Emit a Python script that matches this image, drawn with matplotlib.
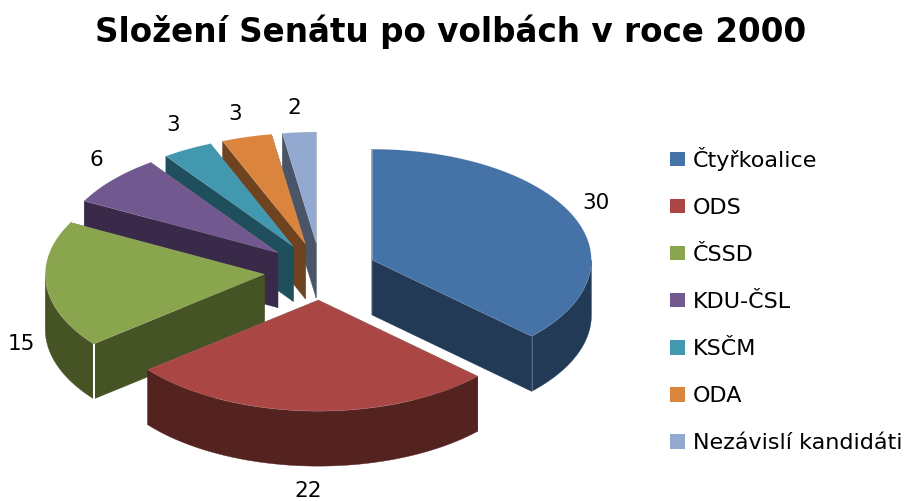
# 3D exploded pie of the Senate composition after the 2000 election
import numpy as np
import matplotlib.pyplot as plt
from matplotlib.patches import Polygon, Patch

# data
parties = ['Čtyřkoalice', 'ODS', 'ČSSD', 'KDU-ČSL', 'KSČM', 'ODA', 'Nezávislí kandidáti']
seats = [30, 22, 15, 6, 3, 3, 2]
top_colors = ['#4573A7', '#AA4644', '#89A54E', '#71588F', '#4198AF', '#DB843D', '#93A9CF']
side_colors = ['#233A56', '#54221F', '#465425', '#3A2A49', '#1F4E5C', '#6F4320', '#4A5568']

# pie geometry in pixels
cx, cy = 320.5, 271.5
rx, ry = 219, 111
depth = 55
explode = 0.258

# where the value labels sit
label_x = [596, 308, 21, 96, 173, 235, 294]
label_y = [203, 491, 344, 160, 125, 114, 108]

fig = plt.figure(figsize=(9.09, 5.01), dpi=100)
ax = fig.add_axes([0, 0, 1, 1])
ax.set_xlim(0, 909)
ax.set_ylim(501, 0)
ax.axis('off')

# angles run clockwise from 12 o'clock
edges = np.cumsum([0] + seats) / sum(seats) * 2 * np.pi
slices = []
for i in range(len(seats)):
    mid = (edges[i] + edges[i + 1]) / 2
    ax0 = cx + explode * rx * np.sin(mid)
    ay0 = cy - explode * ry * np.cos(mid)
    slices.append((ay0, ax0, i))


def rim(x0, y0, t):
    return x0 + rx * np.sin(t), y0 - ry * np.cos(t)


# back slices first
for ay0, ax0, i in sorted(slices):
    t0, t1 = edges[i], edges[i + 1]
    side = side_colors[i]

    # the two cut faces, the one lower on screen goes last
    faces = sorted([t0, t1], key=lambda t: rim(ax0, ay0, t)[1])
    for t in faces:
        ex, ey = rim(ax0, ay0, t)
        pts = [(ax0, ay0), (ex, ey), (ex, ey + depth), (ax0, ay0 + depth)]
        ax.add_patch(Polygon(pts, closed=True, fc=side, ec=side, lw=0.3))

    # outer wall, only the part of the rim that faces the viewer
    w0, w1 = max(t0, np.pi / 2), min(t1, 3 * np.pi / 2)
    if w1 > w0:
        t = np.linspace(w0, w1, 120)
        ex, ey = rim(ax0, ay0, t)
        wall = np.vstack([np.column_stack([ex, ey]),
                          np.column_stack([ex[::-1], ey[::-1] + depth])])
        ax.add_patch(Polygon(wall, closed=True, fc=side, ec=side, lw=0.3))

    # thin light line down the front corner
    fx, fy = rim(ax0, ay0, faces[-1])
    if np.cos(faces[-1]) < 0:
        ax.plot([fx, fx], [fy, fy + depth], color='white',
                lw=1.4 if i == 2 else 0.5, alpha=1 if i == 2 else 0.35,
                solid_capstyle='butt')

    # top
    t = np.linspace(t0, t1, 120)
    ex, ey = rim(ax0, ay0, t)
    top = np.vstack([[ax0, ay0], np.column_stack([ex, ey])])
    ax.add_patch(Polygon(top, closed=True, fc=top_colors[i], ec='#ffffff50', lw=0.3))

for x, y, v in zip(label_x, label_y, seats):
    ax.text(x, y, str(v), ha='center', va='center', fontsize=15.5, color='black')

ax.text(451, 32, 'Složení Senátu po volbách v roce 2000', ha='center', va='center',
        fontsize=23.5, fontweight='bold', color='black')

handles = [Patch(fc=c, ec='none', label=p) for c, p in zip(top_colors, parties)]
ax.legend(handles=handles, loc='center left', bbox_to_anchor=(670 / 909, 1 - 300 / 501),
          frameon=False, fontsize=16, handlelength=0.68, handleheight=0.63,
          handletextpad=0.36, labelspacing=1.22, borderpad=0, borderaxespad=0)

plt.savefig('out.png', dpi=100)
